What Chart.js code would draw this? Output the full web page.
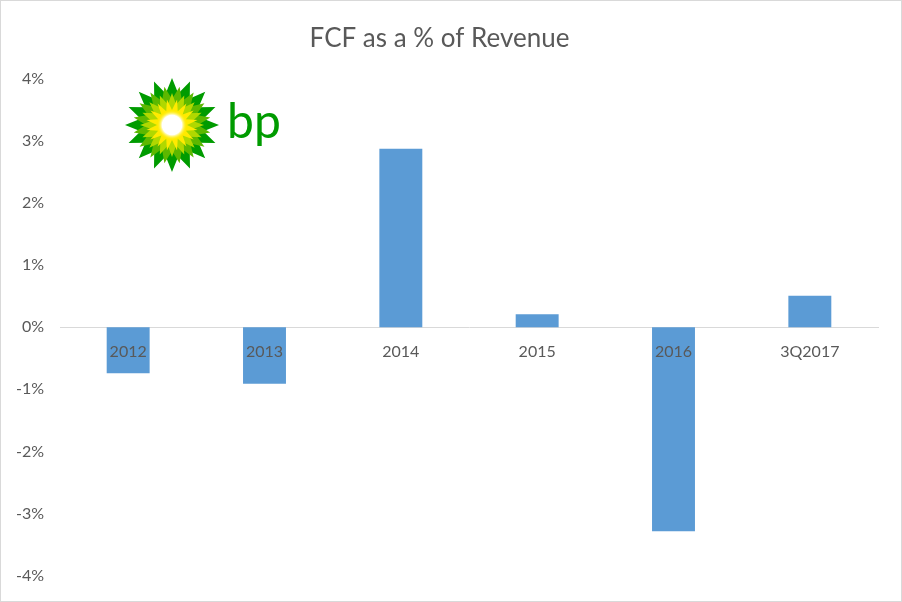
<!DOCTYPE html>
<html>
<head>
    <title>FCF as a % of Revenue</title>
    <script src="https://cdn.jsdelivr.net/npm/chart.js"></script>
    <style>
        body {
            margin: 0;
            background: #ffffff;
        }

        #wrap {
            position: relative;
            width: 902px;
            height: 602px;
            box-sizing: border-box;
            border: 1px solid #d9d9d9;
        }
    </style>
</head>
<body>
    <div id="wrap">
        <canvas id="fcfChart"></canvas>
    </div>

    <script>
        // data (percent of revenue)
        var categories = ['2012', '2013', '2014', '2015', '2016', '3Q2017'];
        var fcfPercent = [-0.74, -0.91, 2.88, 0.21, -3.29, 0.51];
        var yTicks = [-4, -3, -2, -1, 0, 1, 2, 3, 4];

        var textGrey = '#595959';
        var fontFamily = 'Lato, "Open Sans", sans-serif';

        // bp helios logo, drawn on the canvas
        var bpLogo = {
            id: 'bpLogo',
            afterDraw: function(chart) {
                var ctx = chart.ctx;
                var cx = 171, cy = 124;

                function star(n, rOut, rIn, rot, color) {
                    ctx.beginPath();
                    for (var i = 0; i < n * 2; i++) {
                        var r = (i % 2 === 0) ? rOut : rIn;
                        var a = rot + i * Math.PI / n;
                        ctx.lineTo(cx + r * Math.cos(a), cy + r * Math.sin(a));
                    }
                    ctx.closePath();
                    ctx.fillStyle = color;
                    ctx.fill();
                }

                ctx.save();
                star(16, 47, 32, -Math.PI / 2, '#009b00');
                star(16, 39, 26, -Math.PI / 2 + Math.PI / 16, '#5cb800');
                star(16, 32, 21, -Math.PI / 2, '#b0d800');
                star(16, 26, 15, -Math.PI / 2 + Math.PI / 16, '#ffea00');
                var g = ctx.createRadialGradient(cx, cy, 2, cx, cy, 15);
                g.addColorStop(0, '#ffffff');
                g.addColorStop(0.6, '#ffffff');
                g.addColorStop(1, 'rgba(255,240,0,0)');
                ctx.beginPath();
                ctx.arc(cx, cy, 15, 0, Math.PI * 2);
                ctx.fillStyle = g;
                ctx.fill();

                ctx.fillStyle = '#009b00';
                ctx.font = '48px ' + fontFamily;
                ctx.textBaseline = 'middle';
                ctx.fillText('bp', 226, 122);
                ctx.restore();
            }
        };

        window.onload = function() {
            var ctx = document.getElementById('fcfChart').getContext('2d');
            new Chart(ctx, {
                type: 'bar',
                data: {
                    labels: categories,
                    datasets: [{
                        label: 'FCF as a % of Revenue',
                        data: fcfPercent,
                        backgroundColor: '#5b9bd5',
                        borderWidth: 0,
                        categoryPercentage: 1,
                        barPercentage: 0.315
                    }]
                },
                options: {
                    responsive: true,
                    maintainAspectRatio: false,
                    animation: false,
                    layout: {
                        padding: { left: 0, right: 23, top: 0, bottom: 22 }
                    },
                    plugins: {
                        legend: { display: false },
                        tooltip: { enabled: false },
                        title: {
                            display: true,
                            text: 'FCF as a % of Revenue',
                            color: textGrey,
                            font: { family: fontFamily, size: 26, weight: 'normal' },
                            padding: { top: 22, bottom: 25 }
                        }
                    },
                    scales: {
                        x: {
                            position: { y: 0 },
                            afterFit: function(scale) {
                                scale.height = 0;
                            },
                            grid: { display: false, drawTicks: false },
                            border: { display: true, color: '#d9d9d9', width: 1 },
                            ticks: {
                                z: 1,
                                color: textGrey,
                                padding: 15,
                                font: { family: fontFamily, size: 16 },
                                maxRotation: 0
                            }
                        },
                        y: {
                            min: yTicks[0],
                            max: yTicks[yTicks.length - 1],
                            afterBuildTicks: function(scale) {
                                scale.ticks = yTicks.map(function(v) { return { value: v }; });
                            },
                            afterFit: function(scale) {
                                scale.width = 59;
                            },
                            grid: { display: false, drawTicks: false },
                            border: { display: false },
                            ticks: {
                                color: textGrey,
                                padding: 16,
                                font: { family: fontFamily, size: 16 },
                                callback: function(v) { return v + '%'; }
                            }
                        }
                    }
                },
                plugins: [bpLogo]
            });
        };
    </script>
</body>
</html>
